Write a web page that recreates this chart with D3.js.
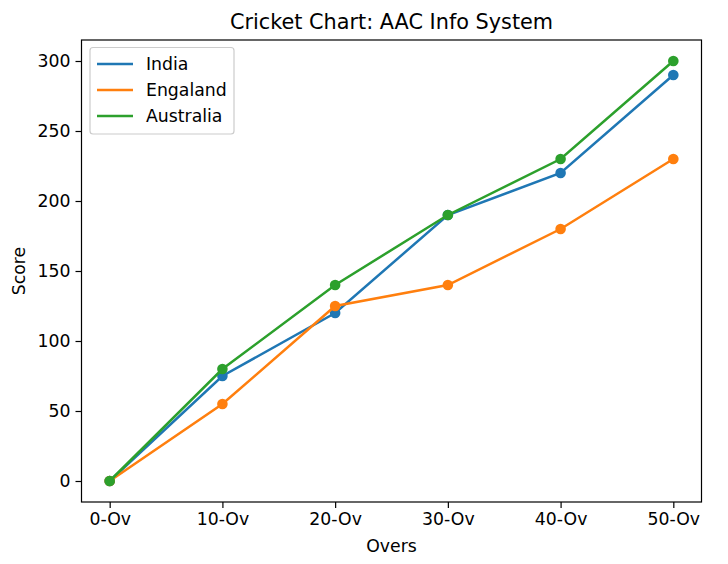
<!DOCTYPE html>
<html><head><meta charset="utf-8">
<script src="https://cdn.jsdelivr.net/npm/d3@7"></script>
<style>body{margin:0;background:#fff;} text{font-family:"DejaVu Sans",sans-serif;fill:#000;}</style>
</head><body><svg id="c" width="728" height="564"></svg>
<script>
const overs = ["0-Ov","10-Ov","20-Ov","30-Ov","40-Ov","50-Ov"];
const india = [0,75,120,190,220,290];
const england = [0,55,125,140,180,230];
const australia = [0,80,140,190,230,300];
const seriesNames = ["India","Engaland","Australia"];
const colors = ["#1f77b4","#ff7f0e","#2ca02c"];
const yTicks = [0,50,100,150,200,250,300];

const svg = d3.select("#c");
const L=81.5, R=701.5, T=40, B=502;
const FS=17.3;
const x = d3.scaleLinear().domain([-0.25, overs.length-0.75]).range([L,R]);
const y = d3.scaleLinear().domain([-15,315]).range([B,T]);

svg.append("text").attr("x",(L+R)/2).attr("y",28.5).attr("text-anchor","middle").attr("font-size",20.8).text("Cricket Chart: AAC Info System");

const xAxis = d3.axisBottom(x).tickValues(d3.range(overs.length)).tickFormat(i=>overs[i]).tickSize(6).tickPadding(5);
const gx = svg.append("g").attr("transform",`translate(0,${B})`).call(xAxis);
const yAxis = d3.axisLeft(y).tickValues(yTicks).tickSize(6).tickPadding(5);
const gy = svg.append("g").attr("transform",`translate(${L},0)`).call(yAxis);
[gx,gy].forEach(g=>{g.select(".domain").remove(); g.attr("font-size",FS).attr("font-family","DejaVu Sans"); g.selectAll("text").attr("font-size",FS); g.selectAll("line").attr("stroke","#000").attr("stroke-width",1.2);});

svg.append("rect").attr("x",L).attr("y",T).attr("width",R-L).attr("height",B-T).attr("fill","none").attr("stroke","#000").attr("stroke-width",1.2);

svg.append("text").attr("x",(L+R)/2).attr("y",551.5).attr("text-anchor","middle").attr("font-size",FS).text("Overs");
svg.append("text").attr("transform",`translate(25,${(T+B)/2}) rotate(-90)`).attr("text-anchor","middle").attr("font-size",FS).text("Score");

const data=[india,england,australia];
const line=d3.line().x((d,i)=>x(i)).y(d=>y(d));
data.forEach((s,k)=>{
  const g=svg.append("g");
  g.append("path").datum(s).attr("d",line).attr("fill","none").attr("stroke",colors[k]).attr("stroke-width",2.5);
  g.selectAll("circle").data(s).join("circle").attr("cx",(d,i)=>x(i)).attr("cy",d=>y(d)).attr("r",5.3).attr("fill",colors[k]);
});

const lg=svg.append("g");
lg.append("rect").attr("x",90).attr("y",47.5).attr("width",144).attr("height",86.5).attr("rx",3).attr("fill","#fff").attr("fill-opacity",0.8).attr("stroke","#ccc").attr("stroke-width",1.2);
seriesNames.forEach((n,k)=>{
  const yy=64+k*26;
  lg.append("line").attr("x1",97).attr("x2",133).attr("y1",yy).attr("y2",yy).attr("stroke",colors[k]).attr("stroke-width",2.5);
  lg.append("text").attr("x",146).attr("y",yy+6).attr("font-size",FS).text(n);
});
</script></body></html>
